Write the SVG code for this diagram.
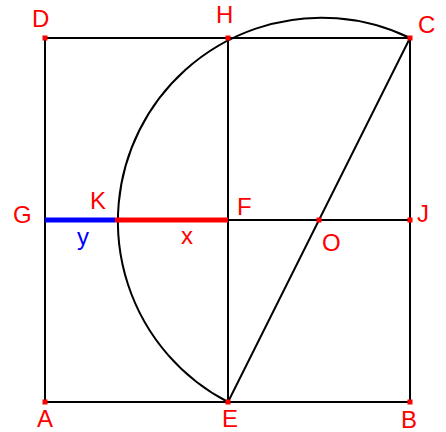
<svg xmlns="http://www.w3.org/2000/svg" width="446" height="432" viewBox="0 0 446 432">
<style>
.ln{stroke:#000;stroke-width:2;fill:none}
.lb{font-family:"Liberation Sans",Arial,sans-serif;font-size:24px;fill:#ff0000}
.pt{fill:#ff0000}
</style>
<rect width="446" height="432" fill="#fff"/>
<g id="connectors">
<path class="ln" d="M45,38 H410 V402 H45 Z"/>
<path class="ln" d="M228,38 V402"/>
<path class="ln" d="M45,220 H410"/>
<path class="ln" d="M228,402 L410,38"/>
<path class="ln" d="M228,402 A203.5,203.5 0 0 1 410,38"/>
<path d="M45,220 H115" stroke="#0000ff" stroke-width="5" fill="none"/>
<path d="M115,220 H228" stroke="#ff0000" stroke-width="5" fill="none"/>
</g>
<g id="A"><rect class="pt" x="42.5" y="399.5" width="5" height="5"/><text class="lb" x="37" y="427">A</text></g>
<g id="B"><rect class="pt" x="407.5" y="399.5" width="5" height="5"/><text class="lb" x="401" y="428">B</text></g>
<g id="C"><rect class="pt" x="407.5" y="35.5" width="5" height="5"/><text class="lb" x="418" y="33">C</text></g>
<g id="D"><rect class="pt" x="42.5" y="35.5" width="5" height="5"/><text class="lb" x="32" y="27">D</text></g>
<g id="E"><rect class="pt" x="225.5" y="399.5" width="5" height="5"/><text class="lb" x="222" y="427">E</text></g>
<g id="F"><text class="lb" x="237" y="215">F</text></g>
<g id="G"><text class="lb" x="13" y="223">G</text></g>
<g id="H"><rect class="pt" x="225.5" y="35.5" width="5" height="5"/><text class="lb" x="216" y="23">H</text></g>
<g id="J"><rect class="pt" x="407.5" y="217.5" width="5" height="5"/><text class="lb" x="417" y="222">J</text></g>
<g id="K"><text class="lb" x="90" y="209">K</text></g>
<g id="O"><rect class="pt" x="316.5" y="217.5" width="5" height="5"/><text class="lb" x="322" y="251">O</text></g>
<g id="x"><text class="lb" x="181" y="244">x</text></g>
<g id="y"><text class="lb" x="77" y="245" style="fill:#0000ff">y</text></g>
</svg>
